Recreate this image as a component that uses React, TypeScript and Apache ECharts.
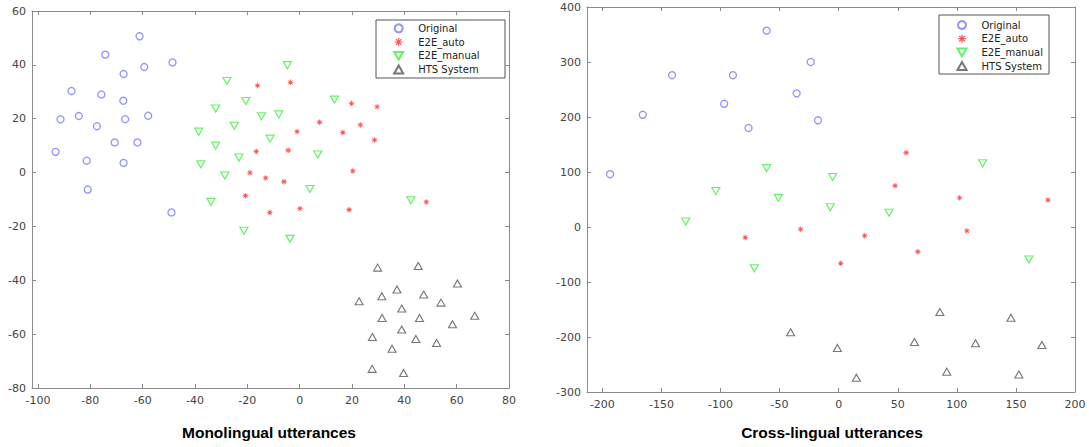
import React, { useEffect, useRef } from "react";
import * as echarts from "echarts";

// ---------- Data ----------
const seriesNames = ["Original", "E2E_auto", "E2E_manual", "HTS System"];

const leftXTicks = [-100, -80, -60, -40, -20, 0, 20, 40, 60, 80];
const rightXTicks = [-200, -150, -100, -50, 0, 50, 100, 150, 200];

// Monolingual utterances
const monoOriginal = [
  [-61.2, 50.6], [-74.3, 43.8], [-59.4, 39.2], [-48.6, 40.9], [-67.3, 36.6],
  [-87.2, 30.3], [-75.8, 29.0], [-67.4, 26.7], [-91.4, 19.8], [-84.4, 21.0],
  [-66.7, 19.8], [-57.9, 21.1], [-77.5, 17.2], [-70.7, 11.2], [-62.0, 11.2],
  [-93.3, 7.7], [-81.4, 4.4], [-67.3, 3.6], [-81.0, -6.3], [-49.0, -14.8],
];
const monoAuto = [
  [-16.1, 32.3], [-3.5, 33.5], [19.8, 25.7], [29.6, 24.4], [7.6, 18.7],
  [23.2, 17.7], [-1.0, 15.2], [16.5, 14.9], [28.6, 12.1], [-16.6, 7.8],
  [-4.4, 8.3], [20.3, 0.6], [-19.0, -0.1], [-13.0, -2.0], [-6.0, -3.4],
  [-20.7, -8.6], [0.1, -13.4], [18.9, -13.8], [-11.4, -14.8], [48.4, -10.9],
];
const monoManual = [
  [-4.7, 39.9], [-27.8, 34.0], [-20.6, 26.6], [13.3, 27.1], [-32.1, 23.8],
  [-14.6, 20.9], [-8.0, 21.6], [-25.0, 17.4], [-38.6, 15.2], [-11.3, 12.6],
  [-32.1, 10.0], [6.9, 6.7], [-23.2, 5.6], [-37.8, 3.1], [-28.6, -1.1],
  [3.9, -6.1], [-33.9, -10.9], [42.5, -10.3], [-21.3, -21.6], [-3.7, -24.6],
];
const monoHTS = [
  [29.8, -35.3], [45.3, -34.7], [60.3, -41.2], [37.2, -43.4], [31.4, -45.9],
  [47.4, -45.3], [22.7, -47.8], [54.0, -48.3], [39.0, -50.5], [31.5, -54.0],
  [45.8, -54.0], [66.9, -53.2], [58.4, -56.3], [39.0, -58.3], [27.8, -61.1],
  [44.4, -61.8], [52.3, -63.3], [35.3, -65.4], [27.7, -72.9], [39.7, -74.4],
];

// Cross-lingual utterances
const crossOriginal = [
  [-61.0, 357], [-23.7, 300], [-141, 276], [-89.5, 276], [-35.6, 243],
  [-96.9, 224], [-165.8, 204], [-17.5, 194], [-76.3, 180], [-193.5, 96],
];
const crossAuto = [
  [57.1, 135], [47.7, 75], [102.3, 53], [177.1, 49], [-79.1, -19],
  [-32.2, -4], [22.0, -16], [108.5, -7], [67.0, -45], [1.7, -66],
];
const crossManual = [
  [-61.0, 107], [-104.0, 65.5], [-51.1, 53], [-129.4, 10], [-71.4, -75],
  [-5.1, 91], [-7.1, 36], [42.7, 26], [121.8, 116], [161.0, -59],
];
const crossHTS = [
  [-40.7, -191.5], [-1.1, -220], [15.0, -274], [64.1, -209], [85.6, -154.5],
  [91.5, -263], [115.8, -211.5], [145.8, -165], [172.0, -214.5], [152.5, -268],
];

// ---------- Styles ----------
const STAR =
  "path://M-1,-0.15L1,-0.15L1,0.15L-1,0.15Z" +
  "M-0.15,-1L0.15,-1L0.15,1L-0.15,1Z" +
  "M-0.594,-0.806L0.806,0.594L0.594,0.806L-0.806,-0.594Z" +
  "M-0.806,0.594L0.594,-0.806L0.806,-0.594L-0.594,0.806Z";
const DOWN_TRIANGLE = "path://M0,0L2,0L1,1.7Z";

const AXIS_COLOR = "#8a8a8a";
const LABEL_COLOR = "#444";
const FONT = "DejaVu Sans";

function makeSeries(gridSide: number, data: number[][][]) {
  const xi = gridSide * 2;
  const yi = gridSide * 2;
  return [
    {
      name: seriesNames[0],
      type: "scatter",
      xAxisIndex: xi,
      yAxisIndex: yi,
      data: data[0],
      symbol: "circle",
      symbolSize: 7,
      itemStyle: { color: "rgba(255,255,255,0)", borderColor: "#7777ff", borderWidth: 1.3 },
    },
    {
      name: seriesNames[1],
      type: "scatter",
      xAxisIndex: xi,
      yAxisIndex: yi,
      data: data[1],
      symbol: STAR,
      symbolSize: 5.5,
      itemStyle: { color: "#ff2a2a" },
    },
    {
      name: seriesNames[2],
      type: "scatter",
      xAxisIndex: xi,
      yAxisIndex: yi,
      data: data[2],
      symbol: DOWN_TRIANGLE,
      symbolSize: [8, 7],
      itemStyle: { color: "rgba(255,255,255,0)", borderColor: "#3ef03e", borderWidth: 1.2 },
    },
    {
      name: seriesNames[3],
      type: "scatter",
      xAxisIndex: xi,
      yAxisIndex: yi,
      data: data[3],
      symbol: "triangle",
      symbolSize: [8, 7],
      itemStyle: { color: "rgba(255,255,255,0)", borderColor: "#555555", borderWidth: 1.1 },
    },
  ];
}

function xAxes(gridIndex: number, min: number, max: number, ticks: number[]) {
  const base = {
    type: "value",
    gridIndex,
    min,
    max,
    splitLine: { show: false },
    axisLine: { show: true, onZero: false, lineStyle: { color: AXIS_COLOR, width: 1 } },
    axisTick: {
      show: true,
      inside: true,
      length: 4,
      customValues: ticks,
      lineStyle: { color: AXIS_COLOR },
    },
  };
  return [
    {
      ...base,
      position: "bottom",
      axisLabel: {
        show: true,
        customValues: ticks,
        color: LABEL_COLOR,
        fontSize: 11,
        fontFamily: FONT,
        margin: 7,
      },
    },
    { ...base, position: "top", axisLabel: { show: false } },
  ];
}

function yAxes(gridIndex: number, min: number, max: number, interval: number) {
  const base = {
    type: "value",
    gridIndex,
    min,
    max,
    interval,
    splitLine: { show: false },
    axisLine: { show: true, onZero: false, lineStyle: { color: AXIS_COLOR, width: 1 } },
    axisTick: { show: true, inside: true, length: 4, lineStyle: { color: AXIS_COLOR } },
  };
  return [
    {
      ...base,
      position: "left",
      axisLabel: { show: true, color: LABEL_COLOR, fontSize: 11, fontFamily: FONT, margin: 6 },
    },
    { ...base, position: "right", axisLabel: { show: false } },
  ];
}

function legend(left: number, top: number) {
  return {
    data: seriesNames,
    orient: "vertical",
    left,
    top,
    itemWidth: 9,
    itemHeight: 8,
    itemGap: 3.7,
    padding: 0,
    selectedMode: false,
    textStyle: {
      fontSize: 10,
      fontFamily: FONT,
      color: "#222",
      lineHeight: 10,
      padding: [0, 0, 0, 10],
    },
  };
}

export default function App() {
  const ref = useRef<HTMLDivElement>(null);
  useEffect(() => {
    if (!ref.current) return;
    const chart = echarts.init(ref.current, undefined, { renderer: "svg" });
    chart.setOption({
      animation: false,
      backgroundColor: "#ffffff",
      grid: [
        { left: 32, top: 11, width: 477, height: 377 },
        { left: 587, top: 7, width: 488, height: 385 },
      ],
      xAxis: [...xAxes(0, -102.3, 80, leftXTicks), ...xAxes(1, -213, 200, rightXTicks)],
      yAxis: [...yAxes(0, -80, 60, 20), ...yAxes(1, -300, 400, 100)],
      legend: [legend(393.2, 23.3), legend(956.5, 20)],
      graphic: [
        {
          type: "rect",
          z: 0,
          shape: { x: 376, y: 20, width: 129, height: 58 },
          style: { fill: "#fff", stroke: "#555", lineWidth: 1 },
        },
        {
          type: "rect",
          z: 0,
          shape: { x: 939, y: 15, width: 110, height: 59 },
          style: { fill: "#fff", stroke: "#555", lineWidth: 1 },
        },
        {
          type: "text",
          x: 269,
          y: 432,
          style: {
            text: "Monolingual utterances",
            font: "bold 15.5px 'Liberation Sans', Arial, sans-serif",
            fill: "#000",
            textAlign: "center",
            textVerticalAlign: "middle",
          },
        },
        {
          type: "text",
          x: 832,
          y: 432,
          style: {
            text: "Cross-lingual utterances",
            font: "bold 15.5px 'Liberation Sans', Arial, sans-serif",
            fill: "#000",
            textAlign: "center",
            textVerticalAlign: "middle",
          },
        },
      ],
      series: [
        ...makeSeries(0, [monoOriginal, monoAuto, monoManual, monoHTS]),
        ...makeSeries(1, [crossOriginal, crossAuto, crossManual, crossHTS]),
      ],
    });
    return () => chart.dispose();
  }, []);
  return (
    <div
      ref={ref}
      style={{ position: "fixed", left: 0, top: 0, width: 1089, height: 447, background: "#fff" }}
    />
  );
}
